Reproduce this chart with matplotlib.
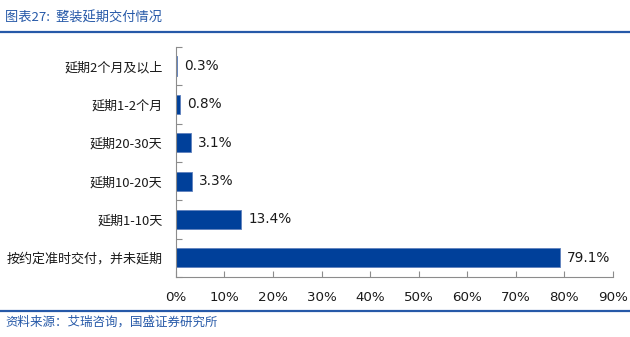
import matplotlib
matplotlib.use("Agg")
import matplotlib.pyplot as plt
from matplotlib.lines import Line2D

plt.rcParams['font.family'] = ['Noto Sans CJK SC', 'DejaVu Sans']

categories = ["延期2个月及以上", "延期1-2个月", "延期20-30天", "延期10-20天", "延期1-10天", "按约定准时交付，并未延期"]
values = [0.3, 0.8, 3.1, 3.3, 13.4, 79.1]
xticks = [0, 10, 20, 30, 40, 50, 60, 70, 80, 90]
title = "图表27:  整装延期交付情况"
source = "资料来源：艾瑞咨询，国盛证券研究所"

bar_color = "#00409A"
blue = "#2659A8"
axis_gray = "#8C8C8C"

fig = plt.figure(figsize=(6.30, 3.37), dpi=100)
ax = fig.add_axes([0.279, 0.178, 0.694, 0.683])

n = len(categories)
ypos = list(range(n))[::-1]
ax.barh(ypos, values, height=0.5, color=bar_color, edgecolor="#5F80BD", linewidth=0.6)

for y, v in zip(ypos, values):
    ax.text(v + 1.5, y, f"{v:.1f}%", va="center", ha="left",
            fontsize=9.8, color="#1A1A1A", family=["DejaVu Sans"])

ax.set_xlim(0, 90)
ax.set_ylim(-0.5, n - 0.5)
ax.set_xticks(xticks)
ax.set_xticklabels([f"{t}%" for t in xticks], fontsize=9.6, family=["DejaVu Sans"], color="#1A1A1A")

# category labels centred on the bars, ticks placed at the category boundaries
ax.set_yticks(ypos)
ax.set_yticklabels(categories, fontsize=9.4, color="#1A1A1A")
ax.tick_params(axis="y", which="major", length=0, pad=9.5)
ax.set_yticks([i - 0.5 for i in range(n + 1)], minor=True)
ax.tick_params(axis="y", which="minor", direction="in", length=4, color=axis_gray, width=0.8)
ax.tick_params(axis="x", direction="in", length=4, color=axis_gray, width=0.8, pad=10)

for side in ("top", "right"):
    ax.spines[side].set_visible(False)
for side in ("left", "bottom"):
    ax.spines[side].set_color(axis_gray)
    ax.spines[side].set_linewidth(0.8)

# header and footer
fig.text(0.008, 1 - 18 / 337, title, fontsize=9.5, color=blue, style="italic", va="center", ha="left")
fig.add_artist(Line2D([0, 1], [1 - 32 / 337, 1 - 32 / 337], color=blue, lw=1.6))
fig.add_artist(Line2D([0, 1], [1 - 311 / 337, 1 - 311 / 337], color=blue, lw=1.6))
fig.text(0.008, 1 - 322 / 337, source, fontsize=9, color=blue, style="italic", va="center", ha="left")

fig.savefig("out.png", dpi=100)
